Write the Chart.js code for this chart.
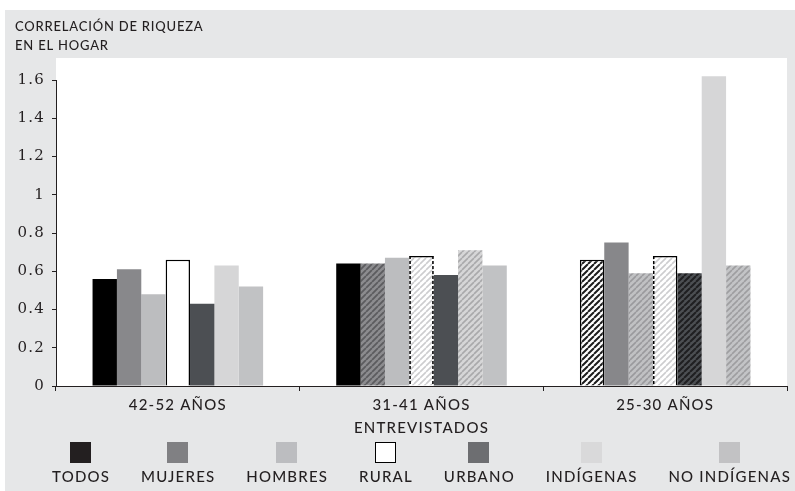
<!DOCTYPE html>
<html>
<head>
<meta charset="utf-8">
<script src="https://cdn.jsdelivr.net/npm/chart.js@4.4.1/dist/chart.umd.min.js"></script>
<style>
  html, body { margin: 0; padding: 0; background: #fff; }
  #wrap { width: 795px; height: 491px; position: relative; }
</style>
</head>
<body>
<div id="wrap"><canvas id="chart" width="795" height="491"></canvas></div>
<script>
// Age groups on the x axis
const AGE_GROUPS = ['42-52 AÑOS', '31-41 AÑOS', '25-30 AÑOS'];

// Household wealth correlation per group of interviewees
const TODOS        = [0.56, 0.64, 0.66];
const MUJERES      = [0.61, 0.64, 0.75];
const HOMBRES      = [0.48, 0.67, 0.59];
const RURAL        = [0.66, 0.68, 0.68];
const URBANO       = [0.43, 0.58, 0.59];
const INDIGENAS    = [0.63, 0.71, 1.62];
const NO_INDIGENAS = [0.52, 0.63, 0.63];

const SERIES_LABELS = ['TODOS', 'MUJERES', 'HOMBRES', 'RURAL', 'URBANO', 'INDÍGENAS', 'NO INDÍGENAS'];
const SERIES_VALUES = [TODOS, MUJERES, HOMBRES, RURAL, URBANO, INDIGENAS, NO_INDIGENAS];

const Y_MIN = 0;
const Y_MAX = 1.6;
const Y_STEP = 0.2;

const TITLE_LINES = ['CORRELACIÓN DE RIQUEZA', 'EN EL HOGAR'];
const X_TITLE = 'ENTREVISTADOS';

// ---- styling ----
const INK = '#231f20';
const PANEL = '#e6e7e8';
const SANS = 'Lato, "Open Sans", sans-serif';

function hatch(base, stripe, lw) {
  const s = 6;
  const c = document.createElement('canvas');
  c.width = s; c.height = s;
  const g = c.getContext('2d');
  g.fillStyle = base;
  g.fillRect(0, 0, s, s);
  g.strokeStyle = stripe;
  g.lineWidth = lw;
  g.beginPath();
  for (const k of [-s, 0, s]) {
    g.moveTo(k, s);
    g.lineTo(k + s, 0);
  }
  g.stroke();
  return g.createPattern(c, 'repeat');
}

const NONE = 0;
const BOX3 = { top: 1.5, left: 1.5, right: 1.5, bottom: 0 };

const SERIES_STYLE = [
  { fill: ['#000000', '#000000', hatch('#ffffff', '#1c1c1c', 2)], border: [NONE, NONE, BOX3], legend: INK },
  { fill: ['#88888b', hatch('#8c8c8f', '#5c5c5f', 1.8), '#87878a'], border: [NONE, NONE, NONE], legend: '#808083' },
  { fill: ['#bcbdbf', '#bcbdbf', hatch('#c0c1c3', '#9a9a9d', 1.6)], border: [NONE, NONE, NONE], legend: '#bcbdc0' },
  { fill: ['#ffffff', hatch('#ffffff', '#cdcdcf', 1.6), hatch('#ffffff', '#cdcdcf', 1.6)],
    border: [BOX3, { top: 1.5, left: 0, right: 0, bottom: 0 }, { top: 1.5, left: 0, right: 1.5, bottom: 0 }],
    dashed: [[], ['left', 'right'], ['left']], legend: '#ffffff' },
  { fill: ['#4c4f53', '#4c4f53', hatch('#4c4f53', '#1f1f21', 2)], border: [NONE, NONE, NONE], legend: '#6d6e71' },
  { fill: ['#d6d6d7', hatch('#d6d6d7', '#a9a9ab', 1.6), '#d6d6d7'], border: [NONE, NONE, NONE], legend: '#d9d9da' },
  { fill: ['#c1c2c4', '#c1c2c4', hatch('#c3c4c6', '#9e9ea0', 1.6)], border: [NONE, NONE, NONE], legend: '#c2c2c4' }
];

const datasets = SERIES_LABELS.map((label, i) => ({
  label,
  data: SERIES_VALUES[i],
  backgroundColor: SERIES_STYLE[i].fill,
  borderColor: '#000000',
  borderWidth: (ctx) => SERIES_STYLE[i].border[ctx.dataIndex],
  borderSkipped: 'start',
  categoryPercentage: 0.7,
  barPercentage: 1.0,
  clip: false
}));

// panel backgrounds, plus letter spacing for the category axis
const panelPlugin = {
  id: 'panel',
  beforeDraw(chart) {
    const { ctx, chartArea, width, height } = chart;
    ctx.save();
    ctx.fillStyle = '#ffffff';
    ctx.fillRect(0, 0, width, height);
    ctx.fillStyle = PANEL;
    ctx.fillRect(5, 10, width - 5, height - 10);
    ctx.fillStyle = '#ffffff';
    ctx.fillRect(chartArea.left, 58, chartArea.right - chartArea.left, chartArea.bottom - 58);
    ctx.restore();
    ctx.letterSpacing = '1.2px';
  },
  afterDatasetsDraw(chart) {
    const ctx = chart.ctx;
    ctx.letterSpacing = '0px';
    // dashed sides of the rural bars
    chart.data.datasets.forEach((ds, di) => {
      const st = SERIES_STYLE[di];
      if (!st.dashed) return;
      const meta = chart.getDatasetMeta(di);
      meta.data.forEach((bar, idx) => {
        const sides = st.dashed[idx];
        if (!sides || !sides.length) return;
        const { x, y, base, width } = bar.getProps(['x', 'y', 'base', 'width'], true);
        ctx.save();
        ctx.strokeStyle = '#000000';
        ctx.lineWidth = 1.5;
        ctx.setLineDash([3, 2]);
        sides.forEach(side => {
          const sx = side === 'left' ? x - width / 2 + 0.75 : x + width / 2 - 0.75;
          ctx.beginPath();
          ctx.moveTo(sx, y);
          ctx.lineTo(sx, base);
          ctx.stroke();
        });
        ctx.restore();
      });
    });
  },
  afterDraw(chart) {
    const ctx = chart.ctx;
    ctx.save();
    // title
    ctx.fillStyle = INK;
    ctx.letterSpacing = '0.8px';
    ctx.font = '500 13px ' + SANS;
    ctx.textAlign = 'left';
    ctx.textBaseline = 'alphabetic';
    ctx.fillText(TITLE_LINES[0], 15, 31);
    ctx.fillText(TITLE_LINES[1], 15, 50);

    // legend: swatch above each label
    ctx.font = '500 15px ' + SANS;
    ctx.letterSpacing = '1.2px';
    const labels = chart.data.datasets.map(d => d.label);
    const widths = labels.map(l => ctx.measureText(l).width);
    const x0 = 52, x1 = 791;
    const total = widths.reduce((a, b) => a + b, 0);
    const gap = (x1 - x0 - total) / (labels.length - 1);
    let cx = x0;
    labels.forEach((l, i) => {
      const mid = cx + widths[i] / 2;
      ctx.fillStyle = SERIES_STYLE[i].legend;
      ctx.fillRect(Math.round(mid - 11), 442, 21, 21);
      if (i === 3) {
        ctx.strokeStyle = '#000000';
        ctx.lineWidth = 1;
        ctx.strokeRect(Math.round(mid - 11) + 0.5, 442.5, 20, 20);
      }
      ctx.fillStyle = INK;
      ctx.textAlign = 'left';
      ctx.fillText(l, cx, 482);
      cx += widths[i] + gap;
    });
    ctx.restore();
  }
};

new Chart(document.getElementById('chart'), {
  type: 'bar',
  data: { labels: AGE_GROUPS, datasets },
  options: {
    responsive: false,
    animation: false,
    layout: { padding: { left: 0, right: 8, top: 80, bottom: 51 } },
    plugins: {
      legend: { display: false },
      title: { display: false },
      tooltip: { enabled: false }
    },
    scales: {
      x: {
        z: 0,
        offset: true,
        afterFit(scale) { scale.height = 54; },
        grid: { offset: true, drawOnChartArea: false, drawTicks: true, tickLength: 5, color: INK, lineWidth: 1 },
        border: { display: true, color: INK, width: 1 },
        ticks: { color: INK, font: { family: SANS, size: 15, weight: 500 }, padding: 5, autoSkip: false, maxRotation: 0 },
        title: { display: true, text: X_TITLE, color: INK, font: { family: SANS, size: 15, weight: 500 }, padding: { top: 0, bottom: 3 } }
      },
      y: {
        z: 1,
        min: Y_MIN,
        max: Y_MAX,
        afterFit(scale) { scale.width = 56; },
        grid: { drawOnChartArea: false, drawTicks: true, tickLength: 4, color: INK, lineWidth: 1 },
        border: { display: true, color: INK, width: 1 },
        ticks: {
          stepSize: Y_STEP,
          color: INK,
          font: { family: '"DejaVu Serif", serif', size: 15 },
          padding: 7,
          callback: (v) => String(Number(v.toFixed(1)))
        }
      }
    }
  },
  plugins: [panelPlugin]
});
</script>
</body>
</html>
